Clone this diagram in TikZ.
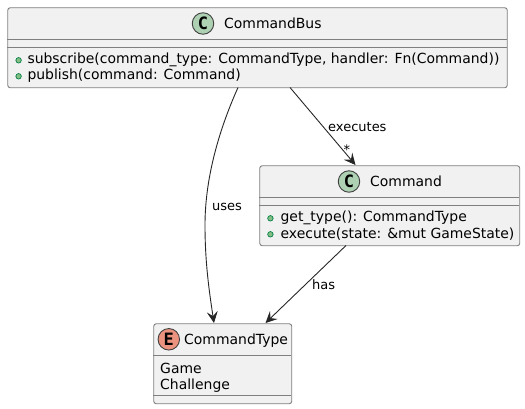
\documentclass[tikz,border=0pt]{standalone}
\usepackage{fontspec}
\setmainfont{DejaVu Sans}
\newfontfamily\spotfont{DejaVu Sans Mono}
\usetikzlibrary{arrows.meta}
\definecolor{boxfill}{HTML}{F1F1F1}
\definecolor{boxline}{HTML}{7F7F7F}
\definecolor{circC}{HTML}{ADD1B2}
\definecolor{circE}{HTML}{EB937F}
\definecolor{dotgreen}{HTML}{84BE84}
\definecolor{dotline}{HTML}{038048}
\tikzset{
  x=1pt,y=-1pt,
  umlbox/.style={draw=boxline,fill=boxfill,line width=0.9pt,rounded corners=2.5pt,anchor=north west,inner sep=0pt},
  sep/.style={draw=boxline,line width=0.9pt},
  txt/.style={font=\fontsize{13.95}{16}\selectfont,text=black,inner sep=0pt,anchor=base west},
  lbl/.style={font=\fontsize{13}{15}\selectfont,text=black,inner sep=0pt,anchor=base west},
  spot/.style={circle,draw=black!75,line width=0.9pt,minimum size=21.5pt,inner sep=0pt,font=\spotfont\bfseries\fontsize{17}{17}\selectfont,text=black},
  vis/.style={circle,draw=dotline,fill=dotgreen,line width=0.7pt,minimum size=5.5pt,inner sep=0pt},
  conn/.style={draw=black!85,line width=0.9pt,-{Stealth[length=11.5pt,width=11pt,inset=4.5pt]}}
}
\begin{document}
\begin{tikzpicture}
\useasboundingbox (0,0) rectangle (525,409);
% CommandBus
\node[umlbox,minimum width=499.5pt,minimum height=80pt] (bus) at (7.3,7.3) {};
\draw[sep] (7.3,39.3) -- (506.8,39.3) (7.3,47.3) -- (506.8,47.3);
\node[spot,fill=circC] (busc) at (203,23.5) {C};
\node[txt] (bust) at (224,29) {CommandBus};
\node[vis] (busv1) at (18.6,60.3) {};
\node[txt] (busm1) at (27.3,64) {subscribe(command\_type: CommandType, handler: Fn(Command))};
\node[vis] (busv2) at (18.6,76.3) {};
\node[txt] (busm2) at (27.3,80) {publish(command: Command)};
% Command
\node[umlbox,minimum width=260pt,minimum height=80pt] (cmd) at (259.3,165.3) {};
\draw[sep] (259.3,197.3) -- (519.3,197.3) (259.3,205.3) -- (519.3,205.3);
\node[spot,fill=circC] (cmdc) at (349,181.5) {C};
\node[txt] (cmdt) at (370,186.5) {Command};
\node[vis] (cmdv1) at (270.4,218.3) {};
\node[txt] (cmdm1) at (280.4,222) {get\_type(): CommandType};
\node[vis] (cmdv2) at (270.4,234.3) {};
\node[txt] (cmdm2) at (280.4,238) {execute(state: \&mut GameState)};
% CommandType
\node[umlbox,minimum width=138pt,minimum height=80pt] (ctype) at (153.3,323.3) {};
\draw[sep] (153.3,355.3) -- (291.3,355.3) (153.3,395.3) -- (291.3,395.3);
\node[spot,fill=circE] (ctypee) at (168.8,339.3) {E};
\node[txt] (ctypet) at (184,344.5) {CommandType};
\node[txt] (ctypem1) at (160,373) {Game};
\node[txt] (ctypem2) at (160,389) {Challenge};
% connectors
\coordinate (a1) at (238,87.5);
\coordinate (a2) at (214,323);
\coordinate (b1) at (290,87.5);
\coordinate (b2) at (355.5,165);
\coordinate (c1) at (346,245.5);
\coordinate (c2) at (265.5,323);
\draw[conn] (a1) .. controls (218,132) and (205,180) .. (205,225) .. controls (205,262) and (209,290) .. (a2);
\draw[conn] (b1) -- (b2);
\draw[conn] (c1) -- (c2);
\node[lbl] (l1) at (212,210) {uses};
\node[lbl] (l2) at (328,131.5) {executes};
\node[lbl] (l3) at (343.5,155) {*};
\node[lbl] (l4) at (312,289) {has};
\end{tikzpicture}
\end{document}
